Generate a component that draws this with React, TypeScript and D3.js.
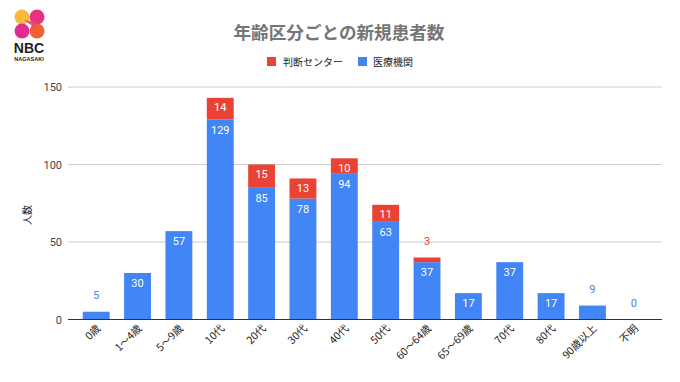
import React from "react";
import * as d3 from "d3";

const categories = ["0歳", "1〜4歳", "5〜9歳", "10代", "20代", "30代", "40代", "50代", "60〜64歳", "65〜69歳", "70代", "80代", "90歳以上", "不明"];
const hospital = [5, 30, 57, 129, 85, 78, 94, 63, 37, 17, 37, 17, 9, 0];
const center = [0, 0, 0, 14, 15, 13, 10, 11, 3, 0, 0, 0, 0, 0];
const yTicks = [0, 50, 100, 150];
const seriesNames = ["判断センター", "医療機関"];

const BLUE = "#4285F4";
const RED = "#EA4335";
const FONT = "Roboto, 'Noto Sans CJK JP', sans-serif";

export default function App() {
  const W = 680, H = 382;
  const x = d3.scaleBand<string>().domain(categories).range([75.5, 654.5]).paddingInner(0.35).paddingOuter(0.175);
  const y = d3.scaleLinear().domain([0, 150]).range([319.5, 87]);
  const bw = x.bandwidth();

  return (
    <svg width={W} height={H} style={{ position: "absolute", left: 0, top: 0, background: "#fff" }} fontFamily={FONT}>
      {/* logo */}
      <g>
        <circle cx={22} cy={17} r={7.5} fill="#F7B52C" opacity={0.95} />
        <circle cx={37} cy={17} r={7.5} fill="#E8267A" opacity={0.95} />
        <circle cx={22} cy={31} r={7.5} fill="#E21F8A" opacity={0.95} />
        <circle cx={37} cy={31} r={7.5} fill="#F05A28" opacity={0.95} />
        <path d="M24 20 L35 28 L35 22 Z" fill="#EE3D6A" opacity={0.9} />
        <text x={29} y={53} textAnchor="middle" fontSize={14} fontWeight={700} fill="#222" fontFamily="'Liberation Sans', Arial, sans-serif">NBC</text>
        <text x={29} y={61} textAnchor="middle" fontSize={5.5} fontWeight={700} fill="#222" fontFamily="'Liberation Sans', Arial, sans-serif">NAGASAKI</text>
      </g>

      {/* title */}
      <text x={339} y={39} textAnchor="middle" fontSize={17.6} fontWeight={700} fill="#757575" fontFamily="'Noto Sans CJK JP', sans-serif">年齢区分ごとの新規患者数</text>

      {/* legend */}
      <g fontSize={10} fill="#222" fontFamily="'Noto Sans CJK JP', sans-serif">
        <rect x={267} y={57} width={9} height={9} fill={RED} />
        <text x={283} y={65.5}>{seriesNames[0]}</text>
        <rect x={358} y={57} width={9} height={9} fill={BLUE} />
        <text x={373} y={65.5}>{seriesNames[1]}</text>
      </g>

      {/* gridlines */}
      {yTicks.map((t) => (
        <g key={t}>
          <line x1={68} x2={662} y1={y(t)} y2={y(t)} stroke={t === 0 ? "#333" : "#ccc"} strokeWidth={1} />
          <text x={62} y={y(t) + 4} textAnchor="end" fontSize={11} fill="#444">{t}</text>
        </g>
      ))}

      {/* y axis title */}
      <text transform={`translate(31,215) rotate(-90)`} textAnchor="middle" fontSize={10} fill="#222" fontFamily="'Noto Sans CJK JP', sans-serif">人数</text>

      {/* bars */}
      {categories.map((c, i) => {
        const x0 = x(c)!;
        const cx = x0 + bw / 2;
        const hv = hospital[i];
        const rv = center[i];
        const hTop = y(hv);
        const rTop = y(hv + rv);
        const elems: React.ReactNode[] = [];
        if (hv > 0) elems.push(<rect key="h" x={x0} y={hTop} width={bw} height={y(0) - hTop - 0.5} fill={BLUE} />);
        if (rv > 0) elems.push(<rect key="r" x={x0} y={rTop} width={bw} height={hTop - rTop} fill={RED} />);
        const hInside = y(0) - hTop > 20;
        elems.push(
          <text key="hl" x={cx} y={hInside ? hTop + 14 : (rv > 0 ? rTop : hTop) - 13} textAnchor="middle" fontSize={11} fill={hInside ? "#fff" : BLUE}>{hv}</text>
        );
        if (rv > 0) {
          const rInside = hTop - rTop > 14;
          elems.push(
            <text key="rl" x={cx} y={rInside ? rTop + 13.5 : rTop - 13} textAnchor="middle" fontSize={11} fill={rInside ? "#fff" : RED}>{rv}</text>
          );
        }
        return <g key={c}>{elems}</g>;
      })}

      {/* x labels */}
      {categories.map((c) => {
        const cx = x(c)! + bw / 2 + 5;
        return (
          <text key={c} transform={`translate(${cx},${329}) rotate(-45)`} textAnchor="end" fontSize={10.5} fill="#222" fontFamily="'Noto Sans CJK JP', sans-serif">{c}</text>
        );
      })}
    </svg>
  );
}
